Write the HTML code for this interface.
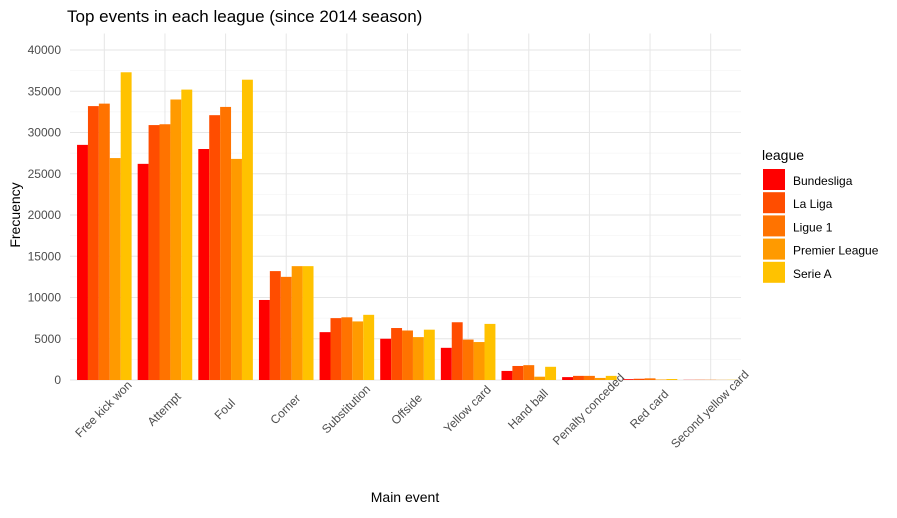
<!DOCTYPE html>
<html><head><meta charset="utf-8"><style>
body{margin:0;background:#fff;font-family:"Liberation Sans",Arial,sans-serif}
</style></head><body>
<svg id="c" width="897" height="513" xmlns="http://www.w3.org/2000/svg" font-family="Liberation Sans, Arial, sans-serif">
<text x="67" y="22" font-size="17" fill="#000">Top events in each league (since 2014 season)</text>
<text x="405" y="502" font-size="14" text-anchor="middle" fill="#000">Main event</text>
<text transform="translate(20,215) rotate(-90)" font-size="14" text-anchor="middle" fill="#000">Frecuency</text>
<g id="grid"></g><g id="bars"></g><g id="ticks"></g><g id="legend"></g>
</svg>
<script>
const categories=["Free kick won","Attempt","Foul","Corner","Substitution","Offside","Yellow card","Hand ball","Penalty conceded","Red card","Second yellow card"];
const leagues=["Bundesliga","La Liga","Ligue 1","Premier League","Serie A"];
const bundesliga=[28500,26200,28000,9700,5800,5000,3900,1100,350,100,20];
const laLiga=[33200,30900,32100,13200,7500,6300,7000,1700,500,150,30];
const ligue1=[33500,31000,33100,12500,7600,6000,4900,1800,500,200,30];
const premierLeague=[26900,34000,26800,13800,7100,5200,4600,400,250,60,20];
const serieA=[37300,35200,36400,13800,7900,6100,6800,1600,500,120,30];
const yTicks=[0,5000,10000,15000,20000,25000,30000,35000,40000];
const series=[bundesliga,laLiga,ligue1,premierLeague,serieA];
const colors=["#FF0000","#FF4D00","#FF7300","#FF9A00","#FFC200"];
const NS="http://www.w3.org/2000/svg";
const x0=74,x1=741,y0=380,yMax=42000;
const y=v=>y0-v*(330/40000);
const step=(x1-x0)/categories.length;
const cx=i=>x0+step*(i+0.5);
function mk(t,a,p){const e=document.createElementNS(NS,t);for(const k in a)e.setAttribute(k,a[k]);p.appendChild(e);return e;}
const grid=document.getElementById('grid'),bars=document.getElementById('bars'),ticks=document.getElementById('ticks'),leg=document.getElementById('legend');
for(let v=2500;v<=yMax;v+=5000){mk('line',{x1:70,x2:x1,y1:y(v),y2:y(v),stroke:'#f0f0f0','stroke-width':0.6},grid);}
yTicks.forEach(v=>{
 const l=mk('line',{x1:70,x2:x1,y1:y(v),y2:y(v),stroke:'#e6e6e6','stroke-width':1},grid);
 
 
 const t=mk('text',{x:61,y:y(v)+4,'text-anchor':'end','font-size':12,fill:'#4d4d4d'},ticks);
 t.textContent=v;
 
 
});
categories.forEach((c,i)=>{
 const l=mk('line',{x1:cx(i),x2:cx(i),y1:y(yMax),y2:y0,stroke:'#e6e6e6','stroke-width':1},grid);
 
 
 const bw=step*0.9/5,start=cx(i)-step*0.45;
 series.forEach((s,j)=>{
  const r=mk('rect',{x:start+j*bw,y:y(s[i]),width:bw,height:y0-y(s[i]),fill:colors[j]},bars);
  
  
 });
 const t=mk('text',{transform:`translate(${cx(i)+2},${y0+32}) rotate(-45)`,'text-anchor':'middle','font-size':12,fill:'#4d4d4d'},ticks);
 t.textContent=c;
 
 
});
const lt=mk('text',{x:762,y:160,'font-size':14,fill:'#000'},leg);
lt.textContent='league';


leagues.forEach((n,j)=>{
 const g=mk('g',{},leg);
 
 
 mk('rect',{x:763,y:169+j*23.2,width:22,height:21,fill:colors[j]},g);
 const t=mk('text',{x:793,y:185+j*23.2,'font-size':12,fill:'#000'},g);
 t.textContent=n;
});
</script>
</body></html>
